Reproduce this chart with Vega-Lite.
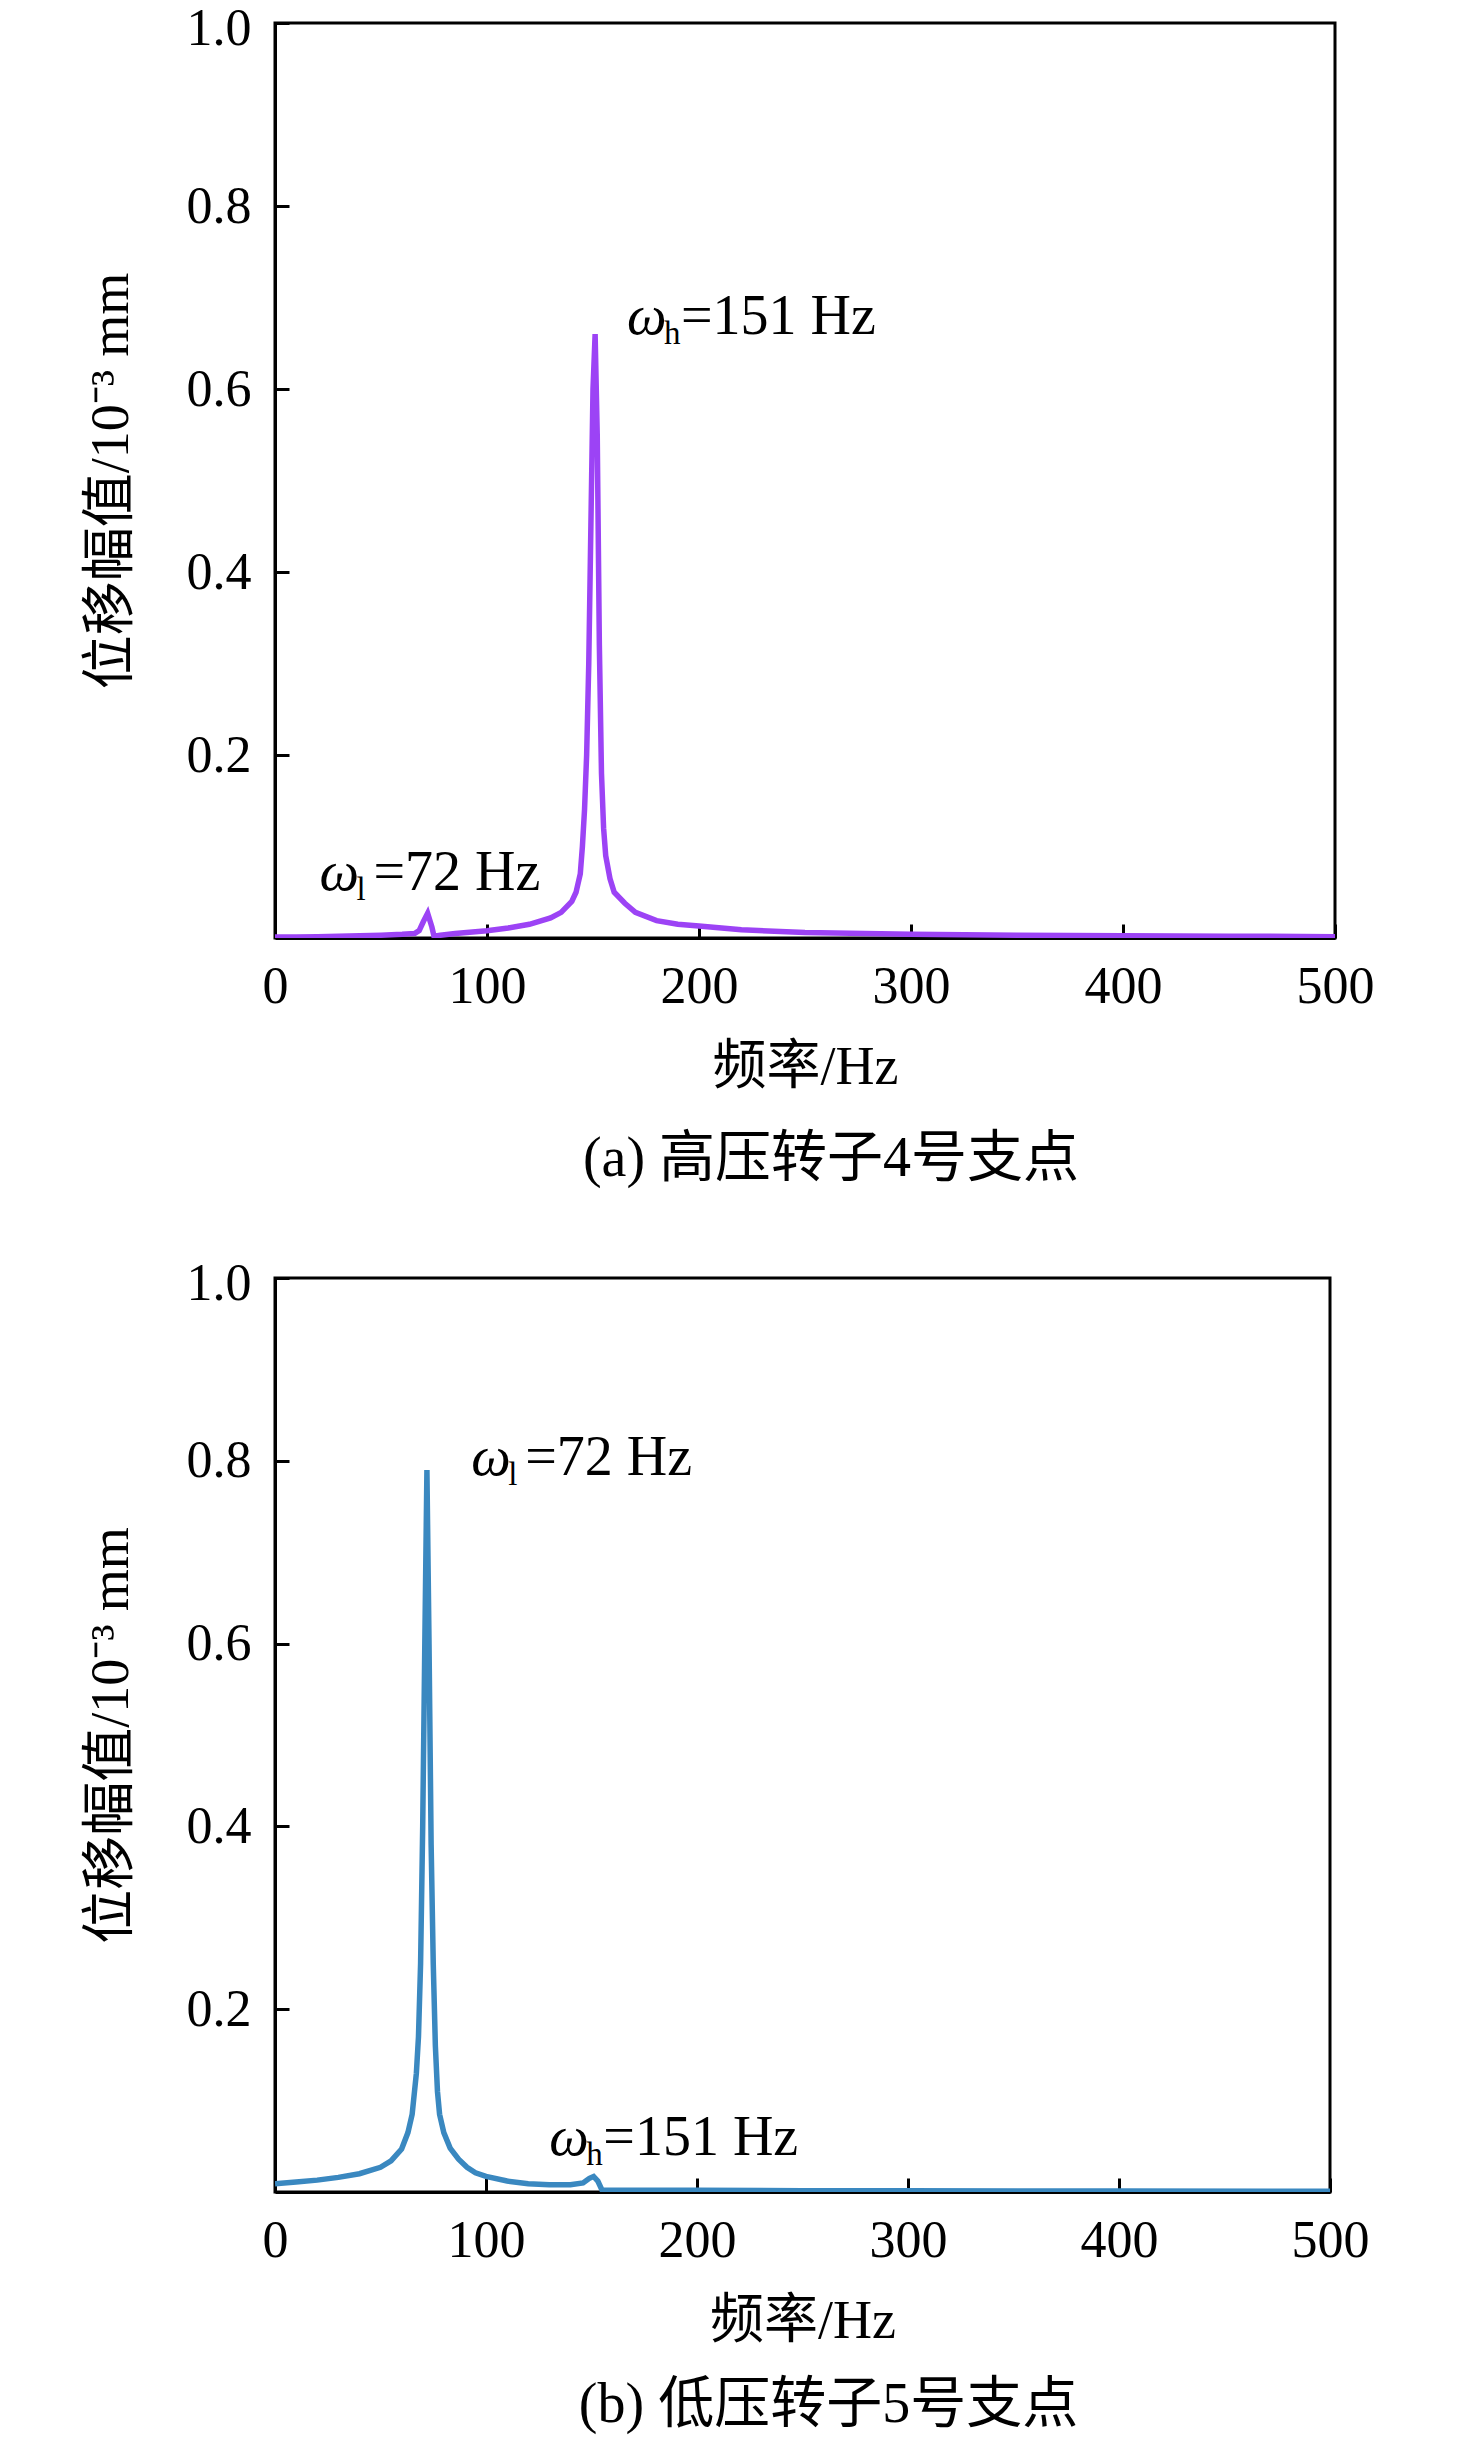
{
  "$schema": "https://vega.github.io/schema/vega-lite/v6.json",
  "background": "white",
  "padding": {"left": 82, "top": 0, "right": 20, "bottom": 0},
  "spacing": 66,
  "config": {
    "view": {"stroke": "black", "strokeWidth": 3},
    "font": "Liberation Serif, Noto Sans CJK SC",
    "axis": {
      "grid": false,
      "domainColor": "black",
      "domainWidth": 3,
      "tickColor": "black",
      "tickWidth": 3,
      "tickSize": -14,
      "labelFont": "Liberation Serif",
      "labelFontSize": 52,
      "labelColor": "black",
      "titleFont": "Liberation Serif, Noto Sans CJK SC",
      "titleFontSize": 54,
      "titleFontWeight": "normal",
      "titleColor": "black"
    },
    "axisX": {"labelPadding": 37, "titlePadding": 28, "labelFlush": false},
    "axisY": {"labelPadding": 38, "titlePadding": 48, "labelFlush": true, "labelFlushOffset": 20},
    "title": {"font": "Liberation Serif, Noto Sans CJK SC", "fontSize": 56, "fontWeight": "normal", "color": "black", "orient": "bottom", "anchor": "middle", "offset": 38}
  },
  "datasets": {
    "hp": [
      {"f": 0, "v": 0.001}, {"f": 10, "v": 0.0012}, {"f": 20, "v": 0.0015}, {"f": 30, "v": 0.002},
      {"f": 40, "v": 0.0025}, {"f": 50, "v": 0.003}, {"f": 60, "v": 0.004}, {"f": 66, "v": 0.005},
      {"f": 68, "v": 0.008}, {"f": 70, "v": 0.018}, {"f": 72, "v": 0.027}, {"f": 74, "v": 0.012},
      {"f": 75, "v": 0.002}, {"f": 78, "v": 0.003}, {"f": 85, "v": 0.005}, {"f": 100, "v": 0.008},
      {"f": 110, "v": 0.011}, {"f": 120, "v": 0.015}, {"f": 130, "v": 0.022}, {"f": 135, "v": 0.028},
      {"f": 140, "v": 0.04}, {"f": 142, "v": 0.05}, {"f": 144, "v": 0.07}, {"f": 145, "v": 0.1},
      {"f": 146, "v": 0.14}, {"f": 147, "v": 0.2}, {"f": 148, "v": 0.3}, {"f": 149, "v": 0.45},
      {"f": 150, "v": 0.6}, {"f": 151, "v": 0.66}, {"f": 152, "v": 0.55}, {"f": 153, "v": 0.32},
      {"f": 154, "v": 0.18}, {"f": 155, "v": 0.12}, {"f": 156, "v": 0.09}, {"f": 158, "v": 0.065},
      {"f": 160, "v": 0.05}, {"f": 165, "v": 0.038}, {"f": 170, "v": 0.028}, {"f": 180, "v": 0.019},
      {"f": 190, "v": 0.015}, {"f": 200, "v": 0.013}, {"f": 220, "v": 0.009}, {"f": 250, "v": 0.006},
      {"f": 300, "v": 0.004}, {"f": 350, "v": 0.003}, {"f": 400, "v": 0.0025}, {"f": 450, "v": 0.002},
      {"f": 500, "v": 0.0015}
    ],
    "lp": [
      {"f": 0, "v": 0.009}, {"f": 10, "v": 0.011}, {"f": 20, "v": 0.013}, {"f": 30, "v": 0.016},
      {"f": 40, "v": 0.02}, {"f": 50, "v": 0.027}, {"f": 55, "v": 0.034}, {"f": 60, "v": 0.047},
      {"f": 63, "v": 0.065}, {"f": 65, "v": 0.085}, {"f": 67, "v": 0.13}, {"f": 68, "v": 0.17},
      {"f": 69, "v": 0.25}, {"f": 70, "v": 0.4}, {"f": 71, "v": 0.6}, {"f": 72, "v": 0.79},
      {"f": 73, "v": 0.6}, {"f": 74, "v": 0.38}, {"f": 75, "v": 0.25}, {"f": 76, "v": 0.16},
      {"f": 77, "v": 0.11}, {"f": 78, "v": 0.085}, {"f": 80, "v": 0.065}, {"f": 83, "v": 0.048},
      {"f": 87, "v": 0.036}, {"f": 91, "v": 0.027}, {"f": 95, "v": 0.021}, {"f": 100, "v": 0.017},
      {"f": 110, "v": 0.012}, {"f": 120, "v": 0.009}, {"f": 130, "v": 0.008}, {"f": 140, "v": 0.008},
      {"f": 146, "v": 0.01}, {"f": 149, "v": 0.015}, {"f": 151, "v": 0.017}, {"f": 153, "v": 0.012},
      {"f": 155, "v": 0.002}, {"f": 160, "v": 0.002}, {"f": 200, "v": 0.0018}, {"f": 250, "v": 0.0015},
      {"f": 300, "v": 0.0013}, {"f": 400, "v": 0.001}, {"f": 500, "v": 0.0008}
    ],
    "hpNotes": [
      {"f": 166, "v": 0.66, "sub": "h", "rest": "=151 Hz"},
      {"f": 21, "v": 0.052, "sub": "l", "rest": "=72 Hz"}
    ],
    "lpNotes": [
      {"f": 93, "v": 0.784, "sub": "l", "rest": "=72 Hz"},
      {"f": 130, "v": 0.041, "sub": "h", "rest": "=151 Hz"}
    ]
  },
  "vconcat": [
    {
      "width": 1060,
      "height": 915,
      "title": {"text": "(a) 高压转子4号支点", "dx": 26},
      "encoding": {
        "x": {"field": "f", "type": "quantitative", "scale": {"domain": [0, 500], "nice": false},
              "axis": {"values": [0, 100, 200, 300, 400, 500], "title": "频率/Hz"}},
        "y": {"field": "v", "type": "quantitative", "scale": {"domain": [0, 1], "nice": false},
              "axis": {"values": [0.2, 0.4, 0.6, 0.8, 1.0], "format": ".1f", "title": "位移幅值/10⁻³ mm"}}
      },
      "layer": [
        {"data": {"name": "hp"}, "mark": {"type": "line", "color": "#9c43f5", "strokeWidth": 5.5, "clip": true}},
        {"data": {"name": "hpNotes"}, "mark": {"type": "text", "text": "ω", "font": "Liberation Serif", "fontStyle": "italic", "fontSize": 56, "align": "left", "baseline": "alphabetic", "color": "black"}},
        {"data": {"name": "hpNotes"}, "mark": {"type": "text", "font": "Liberation Serif", "fontSize": 33, "align": "left", "baseline": "alphabetic", "dx": 37, "dy": 10, "color": "black"}, "encoding": {"text": {"field": "sub"}}},
        {"data": {"name": "hpNotes"}, "mark": {"type": "text", "font": "Liberation Serif", "fontSize": 56, "align": "left", "baseline": "alphabetic", "dx": 54, "color": "black"}, "encoding": {"text": {"field": "rest"}}}
      ]
    },
    {
      "width": 1055,
      "height": 914,
      "title": {"text": "(b) 低压转子5号支点", "dx": 26, "offset": 30},
      "encoding": {
        "x": {"field": "f", "type": "quantitative", "scale": {"domain": [0, 500], "nice": false},
              "axis": {"values": [0, 100, 200, 300, 400, 500], "title": "频率/Hz"}},
        "y": {"field": "v", "type": "quantitative", "scale": {"domain": [0, 1], "nice": false},
              "axis": {"values": [0.2, 0.4, 0.6, 0.8, 1.0], "format": ".1f", "title": "位移幅值/10⁻³ mm"}}
      },
      "layer": [
        {"data": {"name": "lp"}, "mark": {"type": "line", "color": "#3a88c0", "strokeWidth": 5.5, "clip": true}},
        {"data": {"name": "lpNotes"}, "mark": {"type": "text", "text": "ω", "font": "Liberation Serif", "fontStyle": "italic", "fontSize": 56, "align": "left", "baseline": "alphabetic", "color": "black"}},
        {"data": {"name": "lpNotes"}, "mark": {"type": "text", "font": "Liberation Serif", "fontSize": 33, "align": "left", "baseline": "alphabetic", "dx": 37, "dy": 10, "color": "black"}, "encoding": {"text": {"field": "sub"}}},
        {"data": {"name": "lpNotes"}, "mark": {"type": "text", "font": "Liberation Serif", "fontSize": 56, "align": "left", "baseline": "alphabetic", "dx": 54, "color": "black"}, "encoding": {"text": {"field": "rest"}}}
      ]
    }
  ]
}
